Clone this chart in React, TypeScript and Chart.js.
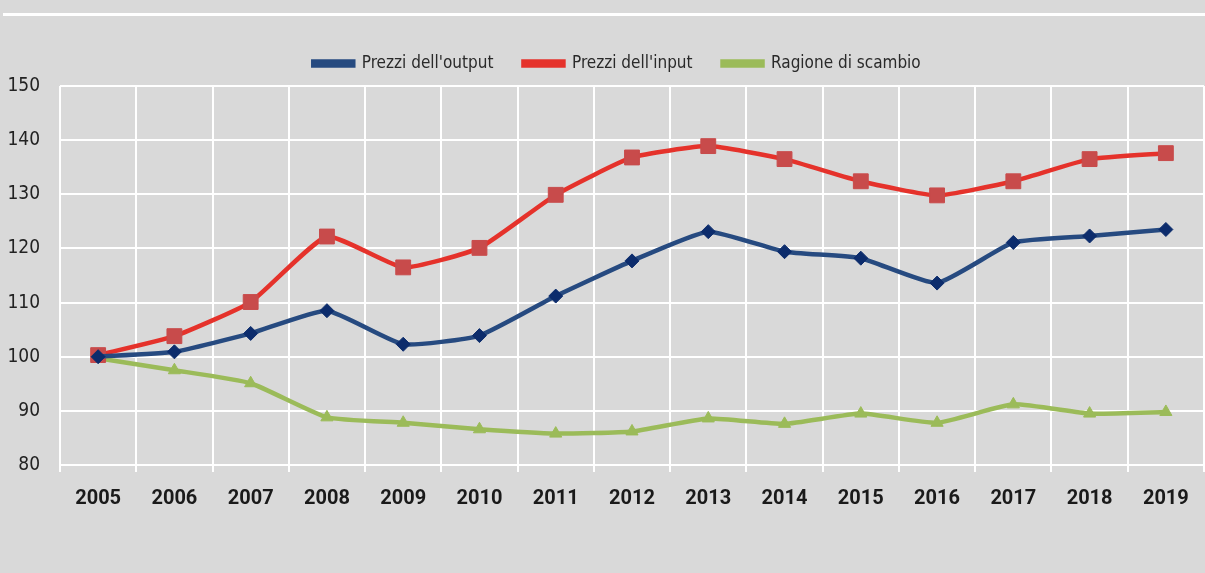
import React, { useEffect, useRef } from "react";
import { Chart, registerables } from "chart.js";

Chart.register(...registerables);

const years = ["2005", "2006", "2007", "2008", "2009", "2010", "2011", "2012", "2013", "2014", "2015", "2016", "2017", "2018", "2019"];
const prezziOutput = [100, 100.9, 104.3, 108.5, 102.3, 103.9, 111.2, 117.7, 123.1, 119.4, 118.2, 113.6, 121.1, 122.3, 123.5];
const prezziInput = [100.3, 103.8, 110.1, 122.2, 116.5, 120.1, 129.9, 136.8, 138.9, 136.5, 132.4, 129.8, 132.4, 136.5, 137.6];
const ragioneScambio = [99.7, 97.5, 95.1, 88.8, 87.8, 86.6, 85.8, 86.2, 88.6, 87.6, 89.5, 87.8, 91.2, 89.5, 89.8];
const seriesNames = ["Prezzi dell'output", "Prezzi dell'input", "Ragione di scambio"];
const yMin = 80;
const yMax = 150;
const yStep = 10;

const NARROW = "'Liberation Sans Narrow', 'Arial Narrow', 'DejaVu Sans Condensed', sans-serif";
const LEGEND_EXTRA = 4;
const LEGEND_SHIFT = 30;

export default function App() {
  const ref = useRef<HTMLCanvasElement | null>(null);

  useEffect(() => {
    if (!ref.current) return;
    const legendGap = {
      id: "legendGap",
      beforeUpdate(chart: any) {
        const lg = chart.legend;
        if (lg && !lg._gapPatched) {
          const f = lg.fit.bind(lg);
          lg.fit = () => {
            f();
            lg.height += LEGEND_EXTRA;
          };
          lg._gapPatched = true;
        }
      },
      afterLayout(chart: any) {
        const lg = chart.legend;
        if (lg) lg.left = LEGEND_SHIFT;
      },
    };
    const chart = new Chart(ref.current, {
      type: "line",
      data: {
        labels: years,
        datasets: [
          {
            label: seriesNames[0],
            data: prezziOutput,
            borderColor: "#264a80",
            backgroundColor: "#264a80",
            borderWidth: 4.5,
            pointStyle: "rectRot",
            pointRadius: 7,
            pointBackgroundColor: "#0c2c6c",
            pointBorderColor: "#0c2c6c",
            pointBorderWidth: 1,
            tension: 0.15,
          },
          {
            label: seriesNames[1],
            data: prezziInput,
            borderColor: "#e5322b",
            backgroundColor: "#e5322b",
            borderWidth: 4.5,
            pointStyle: "rect",
            pointRadius: 10.5,
            pointBackgroundColor: "#c84b4b",
            pointBorderColor: "#c84b4b",
            pointBorderWidth: 1,
            tension: 0.15,
          },
          {
            label: seriesNames[2],
            data: ragioneScambio,
            borderColor: "#9bbb59",
            backgroundColor: "#9bbb59",
            borderWidth: 4.5,
            pointStyle: "triangle",
            pointRadius: 7,
            pointBackgroundColor: "#9bbb59",
            pointBorderColor: "#9bbb59",
            pointBorderWidth: 1,
            tension: 0.15,
          },
        ],
      },
      options: {
        animation: false,
        responsive: true,
        maintainAspectRatio: false,
        layout: { autoPadding: false, padding: { top: 25, left: 0, right: 1, bottom: 0 } },
        plugins: {
          tooltip: { enabled: false },
          legend: {
            display: true,
            position: "top",
            align: "center",
            labels: {
              boxWidth: 40,
              boxHeight: 4,
              padding: 30,
              color: "#2a2a2a",
              font: { family: NARROW, size: 17 },
            },
          },
        },
        scales: {
          x: {
            type: "category",
            offset: true,
            grid: {
              offset: true,
              color: "#ffffff",
              lineWidth: 2,
              drawTicks: true,
              tickLength: 7,
              tickColor: "#ffffff",
            },
            border: { display: false },
            ticks: {
              color: "#1a1a1a",
              padding: 15,
              font: { family: "Roboto, 'DejaVu Sans Condensed', sans-serif", size: 20, weight: "bold" },
              maxRotation: 0,
              autoSkip: false,
            },
            afterFit(scale: any) {
              scale.height = 108;
              scale.paddingLeft = 0;
              scale.paddingRight = 0;
            },
          },
          y: {
            min: yMin,
            max: yMax,
            grid: { color: "#ffffff", lineWidth: 2, drawTicks: false },
            border: { display: false },
            ticks: {
              stepSize: yStep,
              color: "#222222",
              padding: 20,
              font: { family: NARROW, size: 19 },
            },
            afterFit(scale: any) {
              scale.width = 60;
            },
          },
        },
      },
      plugins: [legendGap],
    });
    return () => chart.destroy();
  }, []);

  return (
    <div
      style={{
        position: "fixed",
        left: 0,
        top: 0,
        width: 1205,
        height: 573,
        background: "#d9d9d9",
        overflow: "hidden",
      }}
    >
      <div
        style={{
          position: "absolute",
          left: 3,
          right: 0,
          top: 13,
          height: 3,
          background: "#ffffff",
        }}
      />
      <div style={{ position: "absolute", left: 0, top: 0, width: 1205, height: 573 }}>
        <canvas ref={ref} />
      </div>
    </div>
  );
}
